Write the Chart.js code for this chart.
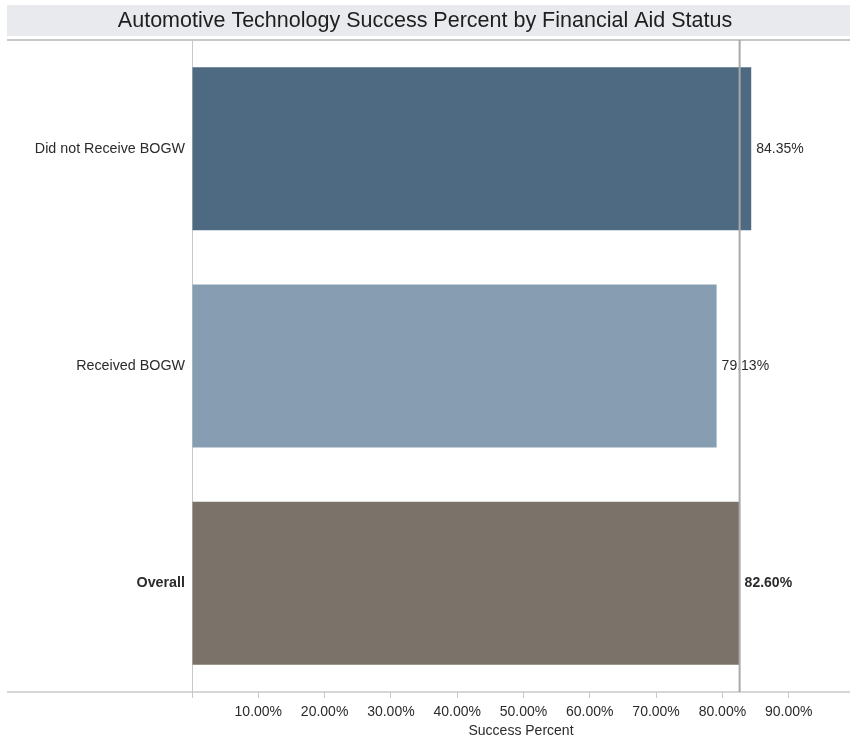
<!DOCTYPE html>
<html>
<head>
<meta charset="utf-8">
<script src="https://cdn.jsdelivr.net/npm/chart.js@4/dist/chart.umd.min.js"></script>
<style>
  html, body { margin: 0; padding: 0; background: #ffffff; }
  #wrap { width: 850px; height: 742px; }
</style>
</head>
<body>
<div id="wrap"><canvas id="chart" width="850" height="742"></canvas></div>
<script>
// Categories and success percentages
const categories = ['Did not Receive BOGW', 'Received BOGW', 'Overall'];
const successPercent = [84.35, 79.13, 82.60];
const barColors = ['#4e6a82', '#869db2', '#7b736a'];
const tickValues = [0, 10, 20, 30, 40, 50, 60, 70, 80, 90];
const overallValue = successPercent[2];

const FONT = '"Liberation Sans", Arial, sans-serif';
const LINE = '#c8c8c8';
const TEXT = '#2b2b2b';

// Grey band behind the title plus the frame lines
const framePlugin = {
  id: 'frame',
  beforeDraw(chart) {
    const ctx = chart.ctx;
    ctx.save();
    ctx.fillStyle = '#e9eaee';
    ctx.fillRect(7, 5, 843, 31);
    ctx.restore();
  },
  beforeDatasetsDraw(chart) {
    const ctx = chart.ctx;
    const a = chart.chartArea;
    ctx.save();
    ctx.strokeStyle = LINE;
    ctx.lineWidth = 2;
    ctx.beginPath();
    ctx.moveTo(7, a.top);
    ctx.lineTo(850, a.top);
    ctx.stroke();
    ctx.lineWidth = 1.5;
    ctx.beginPath();
    ctx.moveTo(7, a.bottom);
    ctx.lineTo(850, a.bottom);
    ctx.stroke();
    ctx.restore();
  }
};

// Value labels at bar ends, then the overall reference line
const labelPlugin = {
  id: 'barLabels',
  afterDatasetsDraw(chart) {
    const ctx = chart.ctx;
    const meta = chart.getDatasetMeta(0);
    ctx.save();
    ctx.fillStyle = TEXT;
    ctx.textAlign = 'left';
    ctx.textBaseline = 'middle';
    meta.data.forEach((bar, i) => {
      const bold = categories[i] === 'Overall';
      ctx.font = (bold ? 'bold ' : '') + '14px ' + FONT;
      ctx.fillText(successPercent[i].toFixed(2) + '%', bar.x + 5, bar.y);
    });
    const x = chart.scales.x.getPixelForValue(overallValue);
    const a = chart.chartArea;
    ctx.strokeStyle = '#a9a9a9';
    ctx.lineWidth = 2;
    ctx.beginPath();
    ctx.moveTo(x, a.top);
    ctx.lineTo(x, a.bottom);
    ctx.stroke();
    ctx.restore();
  }
};

new Chart(document.getElementById('chart'), {
  type: 'bar',
  data: {
    labels: categories,
    datasets: [{
      data: successPercent,
      backgroundColor: barColors,
      borderWidth: 0,
      categoryPercentage: 1,
      barPercentage: 0.75
    }]
  },
  plugins: [framePlugin, labelPlugin],
  options: {
    indexAxis: 'y',
    responsive: false,
    animation: false,
    events: [],
    layout: { padding: { left: 0, right: 0, top: 0, bottom: 0 } },
    plugins: {
      legend: { display: false },
      tooltip: { enabled: false },
      title: {
        display: true,
        text: 'Automotive Technology Success Percent by Financial Aid Status',
        color: '#1e1e1e',
        font: { family: FONT, size: 21.5, weight: 'normal', lineHeight: 1.2 },
        padding: { top: 8.5, bottom: 5.7 }
      }
    },
    scales: {
      x: {
        type: 'linear',
        position: 'bottom',
        min: 0,
        max: 99.25,
        afterBuildTicks(scale) {
          scale.ticks = tickValues.map(v => ({ value: v }));
        },
        afterFit(scale) { scale.height = 50; },
        grid: {
          drawOnChartArea: false,
          drawTicks: true,
          tickLength: 6,
          color: LINE
        },
        border: { display: false },
        ticks: {
          color: TEXT,
          font: { family: FONT, size: 14 },
          padding: 6,
          maxRotation: 0,
          autoSkip: false,
          callback: v => (v === 0 ? '' : v.toFixed(2) + '%')
        },
        title: {
          display: true,
          text: 'Success Percent',
          color: TEXT,
          font: { family: FONT, size: 14 },
          padding: { top: 0, bottom: 2 }
        }
      },
      y: {
        afterFit(scale) { scale.width = 192; },
        grid: { display: false, drawTicks: false },
        border: { display: true, color: LINE, width: 1 },
        ticks: {
          padding: 7,
          color: TEXT,
          font: (ctx) => ({
            family: FONT,
            size: 14.3,
            weight: categories[ctx.index] === 'Overall' ? 'bold' : 'normal'
          })
        }
      }
    }
  }
});
</script>
</body>
</html>
